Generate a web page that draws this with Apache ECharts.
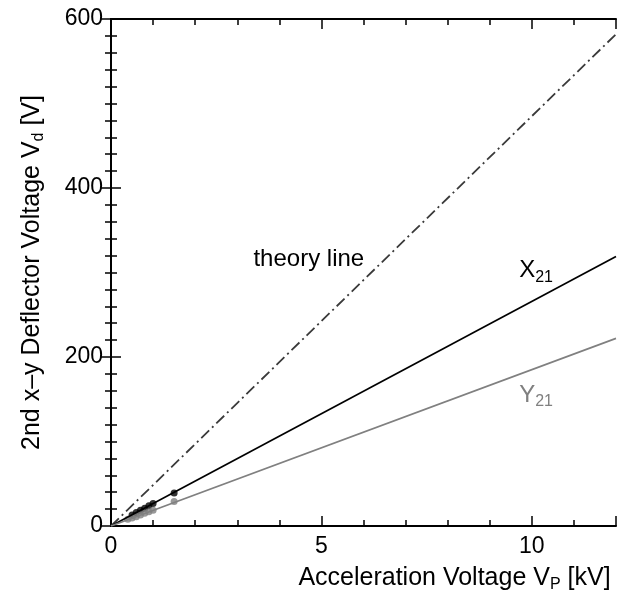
<!DOCTYPE html>
<html>
<head>
<meta charset="utf-8">
<script src="https://cdn.jsdelivr.net/npm/echarts@6/dist/echarts.min.js"></script>
<style>
html,body{margin:0;padding:0;background:#fff;}
#chart{width:628px;height:599px;}
</style>
</head>
<body>
<div id="chart"></div>
<script>
// ---- data ----
const xRange = [0, 12];          // kV
const yRange = [0, 600];         // V
const theoryLine = [[0, 0], [12, 582]];
const x21Fit = [[0, 0], [12, 319]];
const y21Fit = [[0, 0], [12, 222]];
const x21Points = [[0.5, 13], [0.6, 16], [0.7, 18.5], [0.8, 21], [0.9, 24], [1.0, 26.5], [1.5, 39]];
const y21Points = [[0.4, 8], [0.5, 9.5], [0.6, 11], [0.7, 13], [0.8, 15], [0.9, 17], [1.0, 18.5], [1.5, 29]];
const annotations = [
  { name: 'theory', x: 4.7, y: 316, text: 'theory line' },
  { name: 'X21', x: 10.1, y: 302, text: 'X{sub|21}' },
  { name: 'Y21', x: 10.1, y: 155, text: 'Y{sub|21}' }
];
const xTitle = 'Acceleration Voltage V{sub|P} [kV]';
const yTitle = '2nd x\u2013y Deflector Voltage V{sub|d} [V]';

// ---- styles ----
const FONT = "'Liberation Sans', Arial, Helvetica, sans-serif";
const BLACK = '#000000';
const GRAY = '#808080';
const subRich = { sub: { fontSize: 16, fontFamily: FONT, verticalAlign: 'bottom', lineHeight: 14 } };
const annoColors = { theory: BLACK, X21: BLACK, Y21: GRAY };
const FRAME_W = 2;

function xAx(opts) {
  return Object.assign({
    type: 'value', min: xRange[0], max: xRange[1],
    axisLine: { show: false, lineStyle: { color: BLACK, width: FRAME_W } },
    axisTick: { show: true, inside: true, length: 6, lineStyle: { color: BLACK, width: 1.5 } },
    axisLabel: { show: false },
    splitLine: { show: false }
  }, opts);
}
function yAx(opts) {
  return Object.assign({
    type: 'value', min: yRange[0], max: yRange[1], interval: 200,
    axisLine: { show: true, lineStyle: { color: BLACK, width: FRAME_W } },
    axisTick: { show: true, inside: true, length: 10, lineStyle: { color: BLACK, width: 1.5 } },
    minorTick: { show: true, splitNumber: 10, length: 6, lineStyle: { color: BLACK, width: 1.5 } },
    axisLabel: { show: false },
    splitLine: { show: false }, minorSplitLine: { show: false }
  }, opts);
}

const chart = echarts.init(document.getElementById('chart'), null, { renderer: 'canvas' });
chart.setOption({
  animation: false,
  backgroundColor: '#fff',
  grid: { left: 111, right: 12, top: 19, bottom: 73, containLabel: false, outerBoundsMode: 'none' },
  xAxis: [
    xAx({
      position: 'bottom', interval: 1,
      axisLine: { show: true, lineStyle: { color: BLACK, width: FRAME_W } },
      axisLabel: {
        show: true, fontFamily: FONT, fontSize: 23, color: BLACK, margin: 9,
        formatter: v => (v % 5 === 0 ? String(v) : '')
      },
      name: xTitle, nameLocation: 'middle', nameGap: 37,
      nameTextStyle: {
        fontFamily: FONT, fontSize: 25, color: BLACK, lineHeight: 30,
        padding: [0, 0, 0, 182], rich: subRich
      }
    }),
    xAx({ position: 'bottom', interval: 5, axisTick: { show: true, inside: true, length: 10, lineStyle: { color: BLACK, width: 1.5 } } }),
    xAx({ position: 'top', interval: 1, axisLine: { show: true, lineStyle: { color: BLACK, width: FRAME_W } } }),
    xAx({ position: 'top', interval: 5, axisTick: { show: true, inside: true, length: 10, lineStyle: { color: BLACK, width: 1.5 } } })
  ],
  yAxis: [
    yAx({
      position: 'left',
      axisLabel: { show: true, fontFamily: FONT, fontSize: 23, color: BLACK, margin: 8 },
      name: yTitle, nameLocation: 'middle', nameRotate: 90, nameGap: 64,
      nameTextStyle: { fontFamily: FONT, fontSize: 25, color: BLACK, lineHeight: 30, rich: subRich }
    }),
    yAx({ position: 'right' })
  ],
  series: [
    {
      type: 'line', data: theoryLine, symbol: 'none', silent: true,
      lineStyle: { color: '#3a3a3a', width: 1.8, type: [11, 4, 2, 4] }
    },
    {
      type: 'line', data: x21Fit, symbol: 'none', silent: true,
      lineStyle: { color: BLACK, width: 1.7 }
    },
    {
      type: 'line', data: y21Fit, symbol: 'none', silent: true,
      lineStyle: { color: GRAY, width: 1.7 }
    },
    {
      type: 'scatter', data: x21Points, symbol: 'circle', symbolSize: 7,
      itemStyle: { color: BLACK }
    },
    {
      type: 'scatter', data: y21Points, symbol: 'circle', symbolSize: 7,
      itemStyle: { color: GRAY }
    },
    {
      type: 'scatter', symbolSize: 0, silent: true,
      itemStyle: { color: BLACK, opacity: 1 },
      data: annotations.map(a => ({
        value: [a.x, a.y],
        label: {
          show: true, position: 'inside', formatter: a.text,
          fontFamily: FONT, fontSize: 24, color: annoColors[a.name], lineHeight: 30,
          textBorderWidth: 0, textShadowBlur: 0, opacity: 1,
          rich: { sub: Object.assign({}, subRich.sub, { color: annoColors[a.name] }) }
        }
      }))
    }
  ]
});
</script>
</body>
</html>
